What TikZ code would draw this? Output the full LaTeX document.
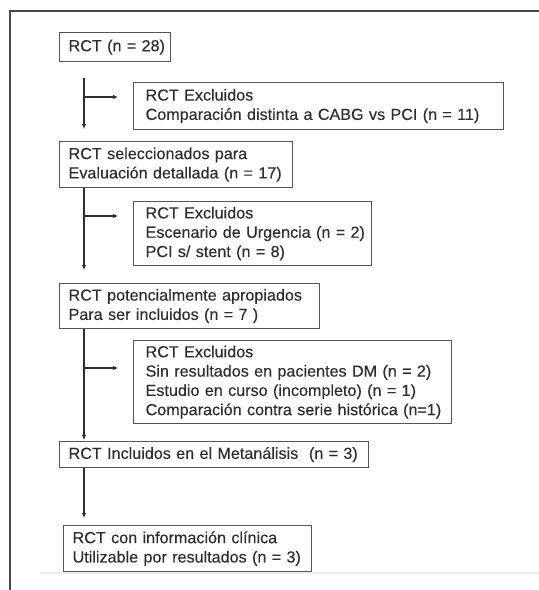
\documentclass[tikz,border=0pt]{standalone}
\usepackage{fontspec}
\setmainfont{Liberation Sans}[FakeStretch=1.01,WordSpace=0.65,FakeBold=0.3]
\usetikzlibrary{arrows.meta}
\definecolor{txt}{HTML}{2E2E2E}
\definecolor{bord}{HTML}{555555}
\definecolor{framec}{HTML}{4A4A4A}
\definecolor{faint}{HTML}{EBEBEB}
\begin{document}
\begin{tikzpicture}[x=1pt,y=-1pt,
  box/.style={draw=bord, line width=1.2pt, inner xsep=9pt, inner ysep=0pt, align=left, anchor=north west, text=txt, font=\fontsize{16}{19.3}\selectfont},
  xbox/.style={box, inner xsep=12pt},
  conn/.style={draw=txt, line width=1.1pt, -{Latex[length=5pt,width=4.5pt]}},
]
\useasboundingbox (0,0) rectangle (539,590);
\fill[white] (0,0) rectangle (539,590);
\draw[framec, line width=1.5pt] (10,590) -- (10,11) -- (539,11);
\draw[faint, line width=2pt] (40,573) -- (539,573);

\node[box, text width=93pt, minimum height=29pt] (B1) at (59,32) {\mbox{RCT (n = 28)}};
\node[xbox, text width=346pt, minimum height=47pt] (E1) at (133,82) {\mbox{RCT Excluidos}\\\mbox{Comparación distinta a CABG vs PCI (n = 11)}};
\node[box, text width=215pt, minimum height=46pt] (B2) at (59,141) {\mbox{RCT seleccionados para}\\\mbox{Evaluación detallada (n = 17)}};
\node[xbox, text width=214pt, minimum height=64pt] (E2) at (133,201) {\mbox{RCT Excluidos}\\\mbox{Escenario de Urgencia (n = 2)}\\\mbox{PCI s/ stent (n = 8)}};
\node[box, text width=242pt, minimum height=45pt] (B3) at (59,283) {\mbox{RCT potencialmente apropiados}\\\mbox{Para ser incluidos (n = 7 )}};
\node[xbox, text width=294pt, minimum height=83pt] (E3) at (133,340) {\mbox{RCT Excluidos}\\\mbox{Sin resultados en pacientes DM (n = 2)}\\\mbox{Estudio en curso (incompleto) (n = 1)}\\\mbox{Comparación contra serie histórica (n=1)}};
\node[box, text width=291pt, minimum height=26pt] (B4) at (59,441) {\mbox{RCT Incluidos en el Metanálisis~ (n = 3)}};
\node[box, text width=230pt, minimum height=46pt] (B5) at (63,525) {\mbox{RCT con información clínica}\\\mbox{Utilizable por resultados (n = 3)}};

\coordinate (v) at (84,78);
\coordinate (b1) at (84,97);
\coordinate (b2) at (84,216);
\coordinate (b3) at (84,368);

\draw[conn, shorten >=12pt] (v) -- (B2.north -| v);
\draw[conn, shorten >=15pt] (b1) -- (b1 -| E1.west);
\draw[conn, shorten >=13pt] (B2.south -| v) -- (B3.north -| v);
\draw[conn, shorten >=15pt] (b2) -- (b2 -| E2.west);
\draw[conn, shorten >=1pt] (B3.south -| v) -- (B4.north -| v);
\draw[conn, shorten >=15pt] (b3) -- (b3 -| E3.west);
\draw[conn, shorten >=7pt] (B4.south -| v) -- (B5.north -| v);
\end{tikzpicture}
\end{document}
